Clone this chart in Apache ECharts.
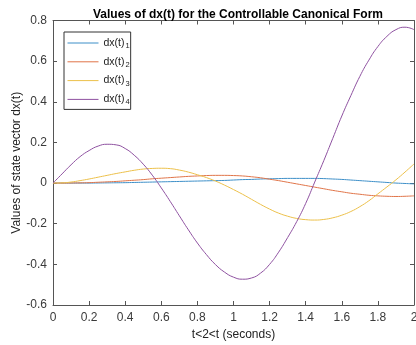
<!DOCTYPE html>
<html>
<head>
<meta charset="utf-8">
<script src="https://cdn.jsdelivr.net/npm/echarts@6/dist/echarts.min.js"></script>
<style>
  html, body { margin: 0; padding: 0; background: #fff; }
  #chart { width: 416px; height: 345px; }
</style>
</head>
<body>
<div id="chart"></div>
<script>
// time samples (seconds)
const times = [0, 0.05, 0.1, 0.15, 0.2, 0.25, 0.3, 0.35, 0.4, 0.45, 0.5, 0.55, 0.6, 0.65, 0.7, 0.75, 0.8, 0.85, 0.9, 0.95,
  1, 1.05, 1.1, 1.15, 1.2, 1.25, 1.3, 1.35, 1.4, 1.45, 1.5, 1.55, 1.6, 1.65, 1.7, 1.75, 1.8, 1.85, 1.9, 1.95, 2]

const dx1 = [0, 0, 0, 0, 0, 0.0005, 0.001, 0.0015, 0.002, 0.003, 0.004, 0.005, 0.006, 0.007, 0.008, 0.009, 0.01, 0.011, 0.012, 0.013,
  0.015, 0.017, 0.018, 0.02, 0.021, 0.022, 0.023, 0.023, 0.023, 0.023, 0.022, 0.02, 0.018, 0.015, 0.012, 0.009, 0.006, 0.003, 0, -0.002, -0.004]

const dx2 = [0, 0, 0.0005, 0.001, 0.002, 0.004, 0.006, 0.008, 0.011, 0.014, 0.017, 0.021, 0.024, 0.027, 0.03, 0.033, 0.035, 0.037, 0.038, 0.038,
  0.037, 0.035, 0.031, 0.026, 0.019, 0.012, 0.004, -0.004, -0.012, -0.02, -0.028, -0.036, -0.043, -0.05, -0.055, -0.06, -0.063, -0.065, -0.066, -0.065, -0.063]

const dx3 = [0, 0.001, 0.005, 0.012, 0.02, 0.029, 0.038, 0.047, 0.055, 0.063, 0.069, 0.072, 0.073, 0.071, 0.064, 0.054, 0.041, 0.027, 0.01, -0.01,
  -0.032, -0.055, -0.08, -0.105, -0.128, -0.148, -0.163, -0.174, -0.18, -0.182, -0.179, -0.171, -0.158, -0.140, -0.116, -0.087, -0.053, -0.019, 0.016, 0.054, 0.094]

const dx4 = [0, 0.045, 0.09, 0.13, 0.16, 0.182, 0.191, 0.188, 0.17, 0.137, 0.093, 0.039, -0.024, -0.091, -0.161, -0.23, -0.295, -0.352, -0.401, -0.438,
  -0.463, -0.473, -0.467, -0.443, -0.4, -0.34, -0.268, -0.19, -0.1, 0.005, 0.11, 0.22, 0.33, 0.43, 0.525, 0.605, 0.672, 0.722, 0.755, 0.767, 0.755]

const seriesNames = ['dx(t)_1', 'dx(t)_2', 'dx(t)_3', 'dx(t)_4']
const seriesColors = ['#3d8fc8', '#e07448', '#ecc04a', '#8e51a0']

const chart = echarts.init(document.getElementById('chart'))

const pair = function (vals) {
  return times.map(function (t, i) { return [t, vals[i]] })
}

const axisColor = '#555'
const labelStyle = { color: '#3a3a3a', fontSize: 12, fontFamily: 'Liberation Sans' }

const option = {
  animation: false,
  title: {
    text: 'Values of dx(t) for the Controllable Canonical Form',
    left: 88,
    top: 4,
    textStyle: {
      color: '#000',
      fontSize: 12,
      fontWeight: 'bold',
      fontFamily: 'Liberation Sans'
    }
  },
  grid: { left: 53, right: 2, top: 20.5, bottom: 40, outerBoundsMode: 'none', containLabel: false },
  legend: {
    orient: 'vertical',
    left: 64,
    top: 32,
    backgroundColor: '#fff',
    borderColor: '#333',
    borderWidth: 1,
    borderRadius: 0,
    padding: [3, 1, 3, 3],
    itemWidth: 31,
    itemHeight: 14,
    itemGap: 3.8,
    itemStyle: { opacity: 0 },
    lineStyle: { width: 1 },
    data: seriesNames,
    formatter: function (name) {
      const parts = name.split('_')
      return '{m|' + parts[0] + '}{s|' + parts[1] + '}'
    },
    textStyle: {
      rich: {
        m: { fontSize: 10.5, color: '#222', fontFamily: 'Liberation Sans', lineHeight: 14, verticalAlign: 'middle' },
        s: { fontSize: 7.5, color: '#222', fontFamily: 'Liberation Sans', lineHeight: 14, verticalAlign: 'bottom', padding: [7, 0, 0, 1] }
      }
    }
  },
  xAxis: [
    {
      type: 'value',
      min: 0,
      max: 2,
      interval: 0.2,
      name: 't<2<t (seconds)',
      nameLocation: 'middle',
      nameGap: 20,
      nameTextStyle: { color: '#222', fontSize: 12, fontFamily: 'Liberation Sans' },
      axisLine: { show: true, onZero: false, lineStyle: { color: axisColor, width: 1 } },
      axisTick: { show: true, inside: true, length: 4, lineStyle: { color: axisColor } },
      axisLabel: Object.assign({ margin: 7 }, labelStyle),
      splitLine: { show: false }
    },
    {
      type: 'value',
      position: 'top',
      min: 0,
      max: 2,
      interval: 0.2,
      axisLine: { show: true, onZero: false, lineStyle: { color: axisColor, width: 1 } },
      axisTick: { show: true, inside: true, length: 4, lineStyle: { color: axisColor } },
      axisLabel: { show: false },
      splitLine: { show: false }
    }
  ],
  yAxis: [
    {
      type: 'value',
      min: -0.6,
      max: 0.8,
      interval: 0.2,
      name: 'Values of state vector dx(t)',
      nameLocation: 'middle',
      nameGap: 30,
      nameMoveOverlap: false,
      nameTextStyle: { color: '#222', fontSize: 12, fontFamily: 'Liberation Sans' },
      axisLine: { show: true, onZero: false, lineStyle: { color: axisColor, width: 1 } },
      axisTick: { show: true, inside: true, length: 4, lineStyle: { color: axisColor } },
      axisLabel: Object.assign({ margin: 6 }, labelStyle),
      splitLine: { show: false }
    },
    {
      type: 'value',
      position: 'right',
      min: -0.6,
      max: 0.8,
      interval: 0.2,
      axisLine: { show: true, onZero: false, lineStyle: { color: axisColor, width: 1 } },
      axisTick: { show: true, inside: true, length: 4, lineStyle: { color: axisColor } },
      axisLabel: { show: false },
      splitLine: { show: false }
    }
  ],
  series: [dx1, dx2, dx3, dx4].map(function (vals, i) {
    return {
      name: seriesNames[i],
      type: 'line',
      smooth: true,
      symbol: 'none',
      data: pair(vals),
      color: seriesColors[i],
      lineStyle: { width: 1, color: seriesColors[i] }
    }
  })
}

chart.setOption(option)
</script>
</body>
</html>
